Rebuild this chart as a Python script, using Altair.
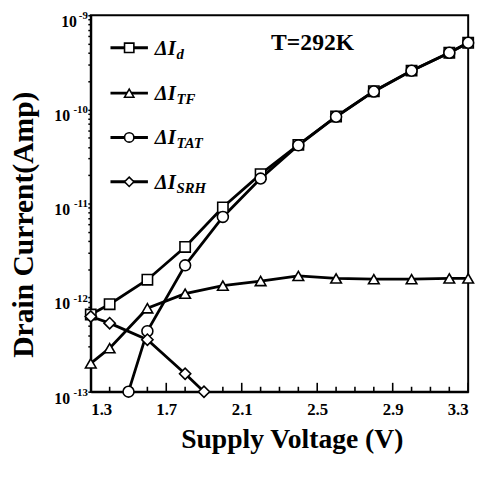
import altair as alt
import pandas as pd

# ---- data ----
series_order = ["Id", "TF", "TAT", "SRH"]

id_v = [1.3, 1.4, 1.6, 1.8, 2.0, 2.2, 2.4, 2.6, 2.8, 3.0, 3.2, 3.3]
id_i = [6.6e-13, 8.5e-13, 1.55e-12, 3.45e-12, 9.1e-12, 2.05e-11, 4.2e-11, 8.4e-11, 1.56e-10, 2.58e-10, 4.0e-10, 5.1e-10]

tf_v = [1.3, 1.4, 1.6, 1.8, 2.0, 2.2, 2.4, 2.6, 2.8, 3.0, 3.2, 3.3]
tf_i = [2.0e-13, 2.9e-13, 7.7e-13, 1.1e-12, 1.34e-12, 1.5e-12, 1.7e-12, 1.6e-12, 1.57e-12, 1.57e-12, 1.6e-12, 1.6e-12]

tat_v = [1.5, 1.6, 1.8, 2.0, 2.2, 2.4, 2.6, 2.8, 3.0, 3.2, 3.3]
tat_i = [1.0e-13, 4.4e-13, 2.2e-12, 7.2e-12, 1.84e-11, 4.15e-11, 8.35e-11, 1.55e-10, 2.57e-10, 4.0e-10, 5.1e-10]

srh_v = [1.3, 1.4, 1.6, 1.8, 1.9]
srh_i = [6.3e-13, 5.35e-13, 3.57e-13, 1.55e-13, 1.0e-13]

legend_sub = ["d", "TF", "TAT", "SRH"]

x_label_values = [1.3, 1.7, 2.1, 2.5, 2.9, 3.3]
x_major_ticks = [1.3, 1.7, 2.1, 2.5, 2.9, 3.3]
x_minor_ticks = [1.4, 1.5, 1.6, 1.8, 1.9, 2.0, 2.2, 2.3, 2.4, 2.6, 2.7, 2.8, 3.0, 3.1, 3.2]

y_decades = [-13, -12, -11, -10, -9]
y_label_base = ["10", "10", "10", "10", "10"]
y_label_exp = ["-13", "-12", "-11", "-10", "-9"]
y_minor_mult = [1, 2, 3, 4, 5, 6, 7, 8, 9]

annotation = "T=292K"

# ---- tables ----
rows = []
for name, vs, cs in [("Id", id_v, id_i), ("TF", tf_v, tf_i), ("TAT", tat_v, tat_i), ("SRH", srh_v, srh_i)]:
    for v, c in zip(vs, cs):
        rows.append({"series": name, "V": v, "I": c})
df = pd.DataFrame(rows)

y_tick_vals = []
for d in y_decades:
    for m in y_minor_mult:
        val = m * 10.0 ** d
        if val <= 1.0001e-9:
            y_tick_vals.append(val)

ylab_df = pd.DataFrame({
    "I": [10.0 ** d for d in y_decades],
    "base": y_label_base,
    "exp": y_label_exp,
    "nd": [len(e) - 1 for e in y_label_exp],
})

FONT = "Liberation Serif"
W, H = 383, 382

shape_scale = alt.Scale(domain=series_order, range=["square", "triangle-up", "circle", "diamond"])
size_scale = alt.Scale(domain=series_order, range=[110, 130, 180, 120])

x_enc = alt.X(
    "V:Q",
    scale=alt.Scale(domain=[1.3, 3.3], nice=False, zero=False),
    axis=alt.Axis(
        values=x_label_values, format=".1f", ticks=False, grid=False,
        labelFont=FONT, labelFontSize=17, labelFontWeight="bold", labelColor="black",
        labelPadding=10, domainColor="black", domainWidth=2,
        titleFont=FONT, titleFontSize=28, titleFontWeight="bold",
        titleColor="black", titleX=204, titleY=57, titleBaseline="alphabetic", titleAlign="center",
    ),
    title="Supply Voltage (V)",
)
y_enc = alt.Y(
    "I:Q",
    scale=alt.Scale(type="log", domain=[1e-13, 1e-9], nice=False),
    axis=alt.Axis(
        values=y_tick_vals, labels=False, grid=False,
        tickSize=3, tickColor="black", tickWidth=1.5,
        domainColor="black", domainWidth=2,
        titleFont=FONT, titleFontSize=30, titleFontWeight="bold", titleColor="black",
        titleX=-59, titleY=212, titleAngle=270, titleBaseline="alphabetic", titleAlign="center",
    ),
    title="Drain Current(Amp)",
)

base = alt.Chart(df)
lines = base.mark_line(color="black", strokeWidth=2.8).encode(x=x_enc, y=y_enc, detail="series:N")
points = base.mark_point(filled=True, fill="white", stroke="black", strokeWidth=1.6, opacity=1).encode(
    x="V:Q", y="I:Q",
    shape=alt.Shape("series:N", scale=shape_scale, legend=None),
    size=alt.Size("series:N", scale=size_scale, legend=None),
)

# y tick labels: "10" with a raised exponent
ylab = alt.Chart(ylab_df)
ylab_exp = ylab.mark_text(font=FONT, fontSize=11, fontWeight="bold", align="right",
                          baseline="middle", dy=1, color="black").encode(
    x=alt.value(-3), y="I:Q", text="exp:N")
ylab_base1 = ylab.transform_filter("datum.nd == 1").mark_text(
    font=FONT, fontSize=16, fontWeight="bold", align="right", baseline="middle", dy=7, color="black").encode(
    x=alt.value(-14), y="I:Q", text="base:N")
ylab_base2 = ylab.transform_filter("datum.nd == 2").mark_text(
    font=FONT, fontSize=16, fontWeight="bold", align="right", baseline="middle", dy=7, color="black").encode(
    x=alt.value(-21), y="I:Q", text="base:N")

# inward x ticks
major_df = pd.DataFrame({"V": x_major_ticks})
minor_df = pd.DataFrame({"V": x_minor_ticks})
major_ticks = alt.Chart(major_df).mark_rule(color="black", strokeWidth=1.6).encode(
    x="V:Q", y=alt.value(H), y2=alt.value(H - 9))
minor_ticks = alt.Chart(minor_df).mark_rule(color="black", strokeWidth=1.6).encode(
    x="V:Q", y=alt.value(H), y2=alt.value(H - 5))

# custom legend
leg_df = pd.DataFrame({
    "series": series_order,
    "sub": legend_sub,
    "main": ["ΔI"] * 4,
    "ly": [33, 79, 124, 169],
})
leg = alt.Chart(leg_df)
leg_lines = leg.mark_rule(color="black", strokeWidth=3).encode(
    x=alt.value(20), x2=alt.value(58), y=alt.Y("ly:Q", scale=None, axis=None))
leg_pts = leg.mark_point(filled=True, fill="white", stroke="black", strokeWidth=1.6, opacity=1, size=90).encode(
    x=alt.value(39), y=alt.Y("ly:Q", scale=None, axis=None),
    shape=alt.Shape("series:N", scale=shape_scale, legend=None))
leg_main = leg.mark_text(font=FONT, fontSize=21, fontWeight="bold", fontStyle="italic",
                         align="left", baseline="alphabetic", dy=7, color="black").encode(
    x=alt.value(65), y=alt.Y("ly:Q", scale=None, axis=None), text="main:N")
leg_sub = leg.mark_text(font=FONT, fontSize=15, fontWeight="bold", fontStyle="italic",
                        align="left", baseline="alphabetic", dy=11, color="black").encode(
    x=alt.value(87), y=alt.Y("ly:Q", scale=None, axis=None), text="sub:N")

ann = alt.Chart(pd.DataFrame({"t": [annotation]})).mark_text(
    font=FONT, fontSize=24, fontWeight="bold", align="left", baseline="middle", color="black").encode(
    x=alt.value(183), y=alt.value(28), text="t:N")

chart = alt.layer(
    lines, major_ticks, minor_ticks, points, ylab_exp, ylab_base1, ylab_base2,
    leg_lines, leg_pts, leg_main, leg_sub, ann
).properties(
    width=W, height=H,
    autosize=alt.AutoSizeParams(type="none"),
    padding={"left": 84, "top": 4, "right": 12, "bottom": 70},
    background="white",
).configure_view(stroke="black", strokeWidth=2)

chart.save("out.html", embed_options={"renderer": "svg", "actions": False})
